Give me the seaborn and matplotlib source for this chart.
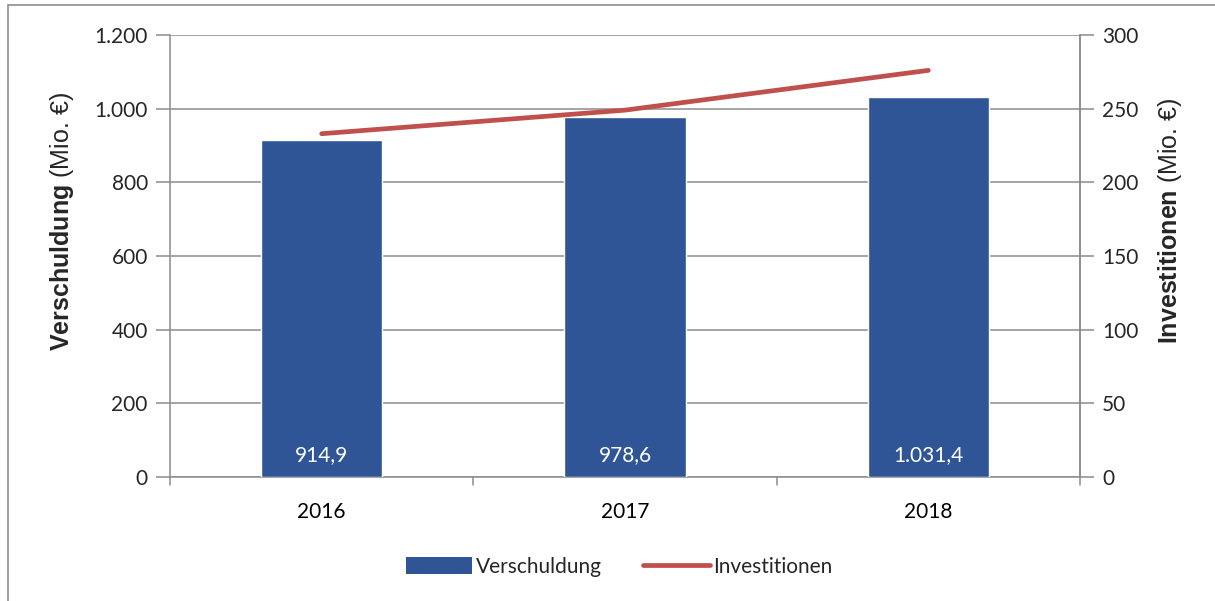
import numpy as np
import pandas as pd
import matplotlib
matplotlib.use("Agg")
import matplotlib.pyplot as plt
from matplotlib.patches import Rectangle, Patch
from matplotlib.lines import Line2D
from matplotlib.ticker import FuncFormatter, FixedLocator
import seaborn as sns

# --- data ---
years = ["2016", "2017", "2018"]
verschuldung = [914.9, 978.6, 1031.4]   # Mio. €
investitionen = [233, 249, 276]          # Mio. €

bar_color = "#2F5597"
line_color = "#C0504D"
grid_color = "#8C8C8C"

df = pd.DataFrame({"Jahr": years, "Verschuldung": verschuldung, "Investitionen": investitionen})
df["pos"] = df["Jahr"].astype("category").cat.codes

sns.set_theme(style="white")
plt.rcParams["font.family"] = ["Lato", "DejaVu Sans"]
plt.rcParams["mathtext.fontset"] = "custom"
plt.rcParams["mathtext.bf"] = "Liberation Sans:bold"
plt.rcParams["mathtext.rm"] = "Liberation Sans"


def de_fmt(v, dec=0):
    s = f"{v:,.{dec}f}"
    return s.replace(",", "X").replace(".", ",").replace("X", ".")


fig = plt.figure(figsize=(12.15, 6.01), dpi=100)
W, H = 1215, 601
ax = fig.add_axes([170 / W, 1 - 477 / H, 910 / W, 442 / H])

sns.barplot(data=df, x="Jahr", y="Verschuldung", color=bar_color, width=0.4,
            saturation=1, ax=ax, zorder=3)
ax.set_ylim(0, 1200)
ax.set_xlim(-0.5, 2.5)
ax.yaxis.set_major_locator(FixedLocator(np.arange(0, 1201, 200)))
ax.yaxis.set_major_formatter(FuncFormatter(lambda v, p: de_fmt(v)))
ax.grid(axis="y", color=grid_color, linewidth=1.1, zorder=0)
ax.set_axisbelow(True)

# bar value labels near the base
for p, v in zip(ax.patches, verschuldung):
    ax.text(p.get_x() + p.get_width() / 2, 60, de_fmt(v, 1), color="white",
            ha="center", va="center", fontsize=15, zorder=5)

ax.set_xlabel("")
ax.set_ylabel("")
ax.set_xticks([0, 1, 2])
ax.set_xticklabels(years)
ax.tick_params(axis="x", length=0, labelsize=15, pad=18, colors="black")
ax.tick_params(axis="y", length=10, width=1.1, color=grid_color, labelsize=15, pad=6, left=True)
# boundary tick marks on the category axis
for xb in [-0.5, 0.5, 1.5, 2.5]:
    ax.plot([xb, xb], [0, -0.018], transform=ax.get_xaxis_transform(), color=grid_color,
            linewidth=1.1, clip_on=False)

ax.spines["top"].set_visible(False)
for side in ["left", "right", "bottom"]:
    ax.spines[side].set_color(grid_color)
    ax.spines[side].set_linewidth(1.1)

ax2 = ax.twinx()
sns.lineplot(data=df, x="pos", y="Investitionen", color=line_color, linewidth=3.4,
             ax=ax2, zorder=4, solid_capstyle="round")
ax2.set_ylim(0, 300)
ax2.set_xlim(-0.5, 2.5)
ax2.yaxis.set_major_locator(FixedLocator(np.arange(0, 301, 50)))
ax2.set_ylabel("")
ax2.set_xlabel("")
ax2.tick_params(axis="y", length=10, width=1.1, color=grid_color, labelsize=15, pad=6, right=True)
ax2.grid(False)
for side in ["top", "left", "bottom"]:
    ax2.spines[side].set_visible(False)
ax2.spines["right"].set_color(grid_color)
ax2.spines["right"].set_linewidth(1.1)

# axis titles: bold word + regular unit
fig.text(62 / W, 1 - 222 / H, r"$\mathbf{Verschuldung}$ (Mio. €)", rotation=90,
         ha="center", va="center", fontsize=18, family=["Liberation Sans", "DejaVu Sans"])
fig.text(1170 / W, 1 - 221 / H, r"$\mathbf{Investitionen}$ (Mio. €)", rotation=90,
         ha="center", va="center", fontsize=18, family=["Liberation Sans", "DejaVu Sans"])

# legend
handles = [Patch(facecolor=bar_color, edgecolor="none", label="Verschuldung"),
           Line2D([0], [0], color=line_color, linewidth=3.4, label="Investitionen")]
fig.legend(handles=handles, loc="center", bbox_to_anchor=(619 / W, 1 - 567 / H), ncol=2,
           frameon=False, fontsize=15, handlelength=3.2, handletextpad=0.15,
           columnspacing=2.0, handleheight=0.9)

# outer chart frame
fig.patches.append(Rectangle((8 / W, -0.05), 1.2, 1 - 5 / H + 0.05, transform=fig.transFigure,
                             fill=False, edgecolor="#8C8C8C", linewidth=1.2))

fig.savefig("out.png", dpi=100, facecolor="white")
